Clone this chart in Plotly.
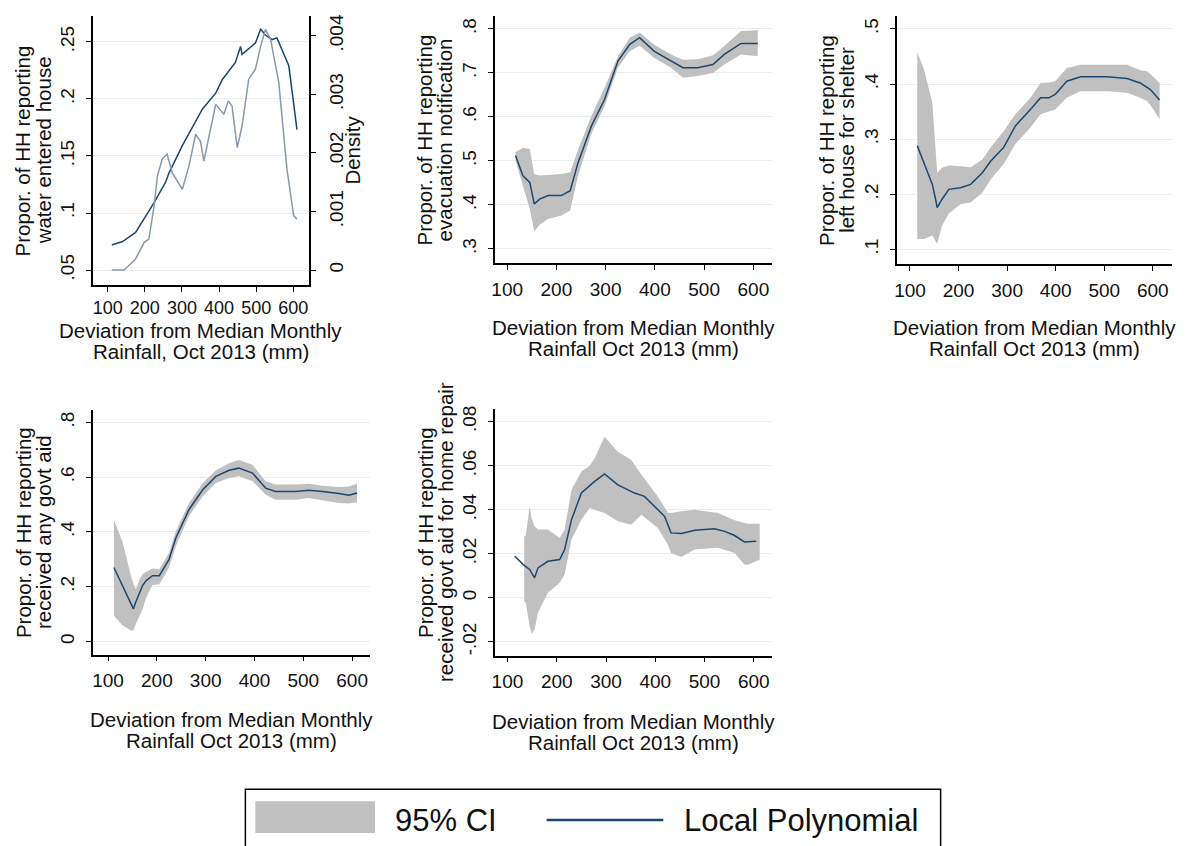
import plotly.graph_objects as go

W, H = 1185, 846

# ---------------- data ----------------
# Panel 1: water entered house (local polynomial) + density of rainfall deviation
p1_x_poly = [111, 140, 175, 202, 225, 256, 265, 301, 355, 391, 409, 444, 458, 462, 498, 512, 525, 543, 556, 588, 610]
p1_poly = [.072, .075, .083, .0975, .109, .127, .135, .159, .191, .205, .217, .232, .246, .239, .249, .261, .256, .252, .2535, .229, .173]
p1_x_dens = [111, 144, 175, 198, 211, 225, 234, 247, 260, 274, 301, 319, 337, 350, 359, 373, 391, 413, 425, 435,
             449, 462, 480, 498, 512, 525, 539, 561, 583, 601, 610]
p1_dens = [0, 0, .00019, .00047, .00053, .0011, .00161, .0019, .00198, .00166, .00138, .00178, .00232, .0022, .00186,
           .00229, .00283, .00266, .00289, .0028, .00209, .00246, .00326, .00343, .00382, .00411, .00394, .0032,
           .00172, .00093, .00087]

# Panel 2: evacuation notification
p2_x = [117, 132, 146, 155, 166, 183, 210, 228, 244, 271, 298, 325, 349, 369, 399, 433, 457, 487, 518, 541, 575, 609]
p2_y = [.512, .466, .451, .402, .413, .421, .421, .432, .496, .579, .640, .727, .765, .780, .749, .727, .712, .712, .719, .742, .767, .767]
p2_hi = [.520, .530, .527, .470, .467, .468, .470, .474, .525, .602, .666, .738, .780, .792, .764, .742, .730, .731, .740, .761, .795, .797]
p2_lo = [.500, .440, .390, .340, .355, .368, .376, .387, .466, .561, .625, .712, .749, .762, .734, .712, .689, .693, .700, .719, .742, .738]

# Panel 3: left house for shelter
p3_x = [115, 129, 146, 153, 156, 166, 180, 204, 225, 249, 266, 293, 317, 348, 369, 386, 399, 423, 451, 506, 547, 574, 588, 595, 614]
p3_y = [.288, .258, .218, .190, .176, .191, .209, .212, .218, .239, .260, .285, .324, .354, .375, .375, .381, .405, .413, .413, .410, .402, .395, .390, .371]
p3_hi = [.458, .426, .366, .270, .239, .248, .252, .251, .249, .263, .285, .315, .345, .375, .402, .403, .405, .429, .435, .435, .435, .425, .423, .418, .402]
p3_lo = [.119, .119, .125, .115, .110, .143, .165, .182, .185, .203, .227, .255, .291, .321, .345, .350, .354, .375, .387, .387, .384, .375, .369, .362, .336]

# Panel 4: received any govt aid
p4_x = [112, 130, 147, 152, 157, 164, 171, 178, 191, 205, 225, 239, 266, 294, 321, 348, 368, 396, 423, 443, 484, 511, 539, 573, 593, 610]
p4_y = [.270, .203, .135, .119, .145, .179, .205, .222, .240, .240, .300, .379, .482, .554, .603, .625, .633, .615, .560, .548, .548, .552, .548, .540, .534, .542]
p4_hi = [.445, .361, .240, .210, .191, .225, .246, .255, .266, .264, .324, .403, .506, .579, .625, .651, .663, .645, .585, .573, .573, .576, .569, .564, .566, .576]
p4_lo = [.094, .058, .040, .040, .064, .095, .119, .160, .206, .209, .270, .349, .458, .530, .579, .597, .603, .585, .536, .518, .518, .524, .516, .506, .504, .508]

# Panel 5: received govt aid for home repair
p5_x = [115, 132, 145, 155, 162, 182, 206, 216, 230, 250, 277, 297, 324, 358, 378, 405, 419, 432, 453, 480, 520, 541, 561, 581, 605]
p5_y = [.0189, .0151, .0129, .0091, .0136, .0166, .0174, .0219, .0355, .0476, .0529, .0563, .0513, .0476, .0461, .0400,
        .0370, .0295, .0292, .0307, .0314, .0302, .0283, .0254, .0257]
p5_ci_x = [134, 137, 145, 149, 155, 162, 182, 206, 216, 230, 250, 267, 277, 297, 324, 351, 372, 405, 426, 432, 453, 480, 527, 561, 581, 588, 612]
p5_hi = [.028, .028, .0415, .036, .0325, .031, .031, .0272, .031, .0491, .0574, .060, .0634, .0732, .0664, .0627, .0559,
         .046, .0385, .0385, .0393, .040, .0385, .0352, .034, .0337, .0337]
p5_lo = [-.002, -.002, -.0128, -.0165, -.0143, -.0067, .0023, .0068, .0106, .0265, .0355, .0408, .040, .0385, .0348,
         .0332, .0378, .0317, .024, .0204, .0186, .0219, .0227, .0204, .0151, .015, .0174]

x_ticks = [100, 200, 300, 400, 500, 600]
x_ticklabels = ["100", "200", "300", "400", "500", "600"]
p1_yticks = [.05, .1, .15, .2, .25]
p1_yticklabels = [".05", ".1", ".15", ".2", ".25"]
p1_dticks = [0, .001, .002, .003, .004]
p1_dticklabels = ["0", ".001", ".002", ".003", ".004"]
p2_yticks = [.3, .4, .5, .6, .7, .8]
p2_yticklabels = [".3", ".4", ".5", ".6", ".7", ".8"]
p3_yticks = [.1, .2, .3, .4, .5]
p3_yticklabels = [".1", ".2", ".3", ".4", ".5"]
p4_yticks = [0, .2, .4, .6, .8]
p4_yticklabels = ["0", ".2", ".4", ".6", ".8"]
p5_yticks = [-.02, 0, .02, .04, .06, .08]
p5_yticklabels = ["-.02", "0", ".02", ".04", ".06", ".08"]

ytitles = [
    ["Propor. of HH reporting", "water entered house"],
    ["Propor. of HH reporting", "evacuation notification"],
    ["Propor. of HH reporting", "left house for shelter"],
    ["Propor. of HH reporting", "received any govt aid"],
    ["Propor. of HH reporting", "received govt aid for home repair"],
]
xtitle_p1 = ["Deviation from Median Monthly", "Rainfall, Oct 2013 (mm)"]
xtitle = ["Deviation from Median Monthly", "Rainfall Oct 2013 (mm)"]
legend_labels = ["95% CI", "Local Polynomial"]

# ---------------- style ----------------
NAVY = "#1a476f"
DENS = "#8599b0"
CI = "#c0c0c0"
GRID = "#e6eef0"
TXT = "#111111"
FONT = "Liberation Sans, Arial, sans-serif"


def xd(a, b):
    return [a / W, b / W]


def yd(top, bottom):
    return [1 - bottom / H, 1 - top / H]


fig = go.Figure()

# panel geometry (pixels): left, right, top, bottom
panels = {
    1: (90, 307, 13, 283),
    2: (493, 771, 13, 261),
    3: (896, 1172, 13, 262),
    4: (90, 368, 408, 654),
    5: (493, 771, 407, 655),
}
xranges = {1: [59.7, 643], 2: [74.8, 638], 3: [72.7, 639.6], 4: [68.7, 636.8], 5: [74.2, 637]}
yranges = {1: [.0369, .2727], 2: [.2676, .8295], 3: [.0734, .5235], 4: [-.0483, .847], 5: [-.0263, .086]}
yticks = {1: (p1_yticks, p1_yticklabels), 2: (p2_yticks, p2_yticklabels), 3: (p3_yticks, p3_yticklabels),
          4: (p4_yticks, p4_yticklabels), 5: (p5_yticks, p5_yticklabels)}

TICKFONT = dict(size=19, color=TXT, family=FONT)
layout = {}
for i, (l, r, t, b) in panels.items():
    xa = "xaxis" if i == 1 else f"xaxis{i}"
    ya = "yaxis" if i == 1 else f"yaxis{i}"
    layout[xa] = dict(domain=xd(l, r), anchor="y" if i == 1 else f"y{i}", range=xranges[i],
                      tickvals=x_ticks, ticktext=x_ticklabels, showgrid=False, zeroline=False,
                      showline=True, linecolor="#000000", linewidth=1.5, ticks="outside", ticklen=5,
                      tickcolor="#000000", tickwidth=1.2,
                      tickfont=dict(size=18, color=TXT, family=FONT) if i == 1 else TICKFONT,
                      ticklabelstandoff=1 if i == 1 else 3)
    tv, tt = yticks[i]
    layout[ya] = dict(domain=yd(t, b), anchor="x" if i == 1 else f"x{i}", range=yranges[i],
                      tickvals=tv, ticktext=tt, showgrid=True, gridcolor=GRID, gridwidth=1, zeroline=False,
                      showline=True, linecolor="#000000", linewidth=1.5, ticks="outside", ticklen=5,
                      tickcolor="#000000", tickwidth=1.2, tickangle=-90,
                      tickfont=TICKFONT, ticklabelstandoff=4)

# secondary (density) axis for panel 1
layout["yaxis6"] = dict(overlaying="y", side="right", anchor="x", range=[-.000255, .00434],
                        tickvals=p1_dticks, ticktext=p1_dticklabels, showgrid=False, zeroline=False,
                        showline=True, linecolor="#000000", linewidth=1.5, ticks="outside", ticklen=5,
                        tickcolor="#000000", tickwidth=1.2, tickangle=-90,
                        tickfont=TICKFONT, ticklabelstandoff=4)

# ---------------- traces ----------------
# panel 1
fig.add_trace(go.Scatter(x=p1_x_dens, y=p1_dens, mode="lines", line=dict(color=DENS, width=1.5),
                         xaxis="x", yaxis="y6", showlegend=False, name="Density"))
fig.add_trace(go.Scatter(x=p1_x_poly, y=p1_poly, mode="lines", line=dict(color=NAVY, width=1.5),
                         xaxis="x", yaxis="y", showlegend=False, name="Local Polynomial"))


def add_ci_panel(i, x, y, lo, hi, ci_x=None):
    cx = ci_x if ci_x is not None else x
    xa, ya = f"x{i}", f"y{i}"
    fig.add_trace(go.Scatter(x=cx, y=lo, mode="lines", line=dict(width=0, color=CI),
                             xaxis=xa, yaxis=ya, showlegend=False, hoverinfo="skip"))
    fig.add_trace(go.Scatter(x=cx, y=hi, mode="lines", line=dict(width=0, color=CI), fill="tonexty",
                             fillcolor=CI, xaxis=xa, yaxis=ya, showlegend=False, name="95% CI"))
    fig.add_trace(go.Scatter(x=x, y=y, mode="lines", line=dict(color=NAVY, width=1.5),
                             xaxis=xa, yaxis=ya, showlegend=False, name="Local Polynomial"))


add_ci_panel(2, p2_x, p2_y, p2_lo, p2_hi)
add_ci_panel(3, p3_x, p3_y, p3_lo, p3_hi)
add_ci_panel(4, p4_x, p4_y, p4_lo, p4_hi)
add_ci_panel(5, p5_x, p5_y, p5_lo, p5_hi, p5_ci_x)

# ---------------- axis titles (annotations) ----------------
ann = []
tfont = dict(size=20.5, color=TXT, family=FONT)


def px_ann(text, x, y, angle=0):
    ann.append(dict(text=text, x=x / W, y=1 - y / H, xref="paper", yref="paper", showarrow=False,
                    xanchor="center", yanchor="middle", textangle=angle, font=tfont))


ytitle_x = {1: (20, 41), 2: (423, 443), 3: (825, 845), 4: (20, 40), 5: (423, 443)}
xtitle_y = {1: (329, 350), 2: (326, 347), 3: (326, 347), 4: (719, 740), 5: (721, 742)}
for i, (l, r, t, b) in panels.items():
    cy = (t + b) / 2
    cx = (l + r) / 2
    for k in range(2):
        px_ann(ytitles[i - 1][k], ytitle_x[i][k], cy, -90)
        px_ann((xtitle_p1 if i == 1 else xtitle)[k], cx, xtitle_y[i][k])
px_ann("Density", 350, 148, -90)

# ---------------- legend (manual, boxed) ----------------
shapes = [
    dict(type="rect", xref="paper", yref="paper", x0=243 / W, x1=940 / W, y0=1 - 850 / H, y1=1 - 789 / H,
         line=dict(color="#000000", width=1.5), fillcolor="rgba(0,0,0,0)"),
    dict(type="rect", xref="paper", yref="paper", x0=253 / W, x1=373 / W, y0=1 - 833 / H, y1=1 - 801 / H,
         line=dict(width=0), fillcolor=CI),
    dict(type="line", xref="paper", yref="paper", x0=545 / W, x1=662 / W, y0=1 - 820 / H, y1=1 - 820 / H,
         line=dict(color=NAVY, width=2.5)),
]
lfont = dict(size=31, color=TXT, family=FONT)
ann.append(dict(text=legend_labels[0], x=391 / W, y=1 - 820 / H, xref="paper", yref="paper", showarrow=False,
                xanchor="left", yanchor="middle", font=lfont))
ann.append(dict(text=legend_labels[1], x=681 / W, y=1 - 820 / H, xref="paper", yref="paper", showarrow=False,
                xanchor="left", yanchor="middle", font=lfont))

fig.update_layout(width=W, height=H, margin=dict(l=0, r=0, t=0, b=0), paper_bgcolor="white",
                  plot_bgcolor="white", showlegend=False, annotations=ann, shapes=shapes,
                  font=dict(family=FONT, color=TXT), **layout)

fig.write_html("out.html", config={"displayModeBar": False},
               post_script="document.body.style.margin='0';document.body.style.overflow='hidden';")
